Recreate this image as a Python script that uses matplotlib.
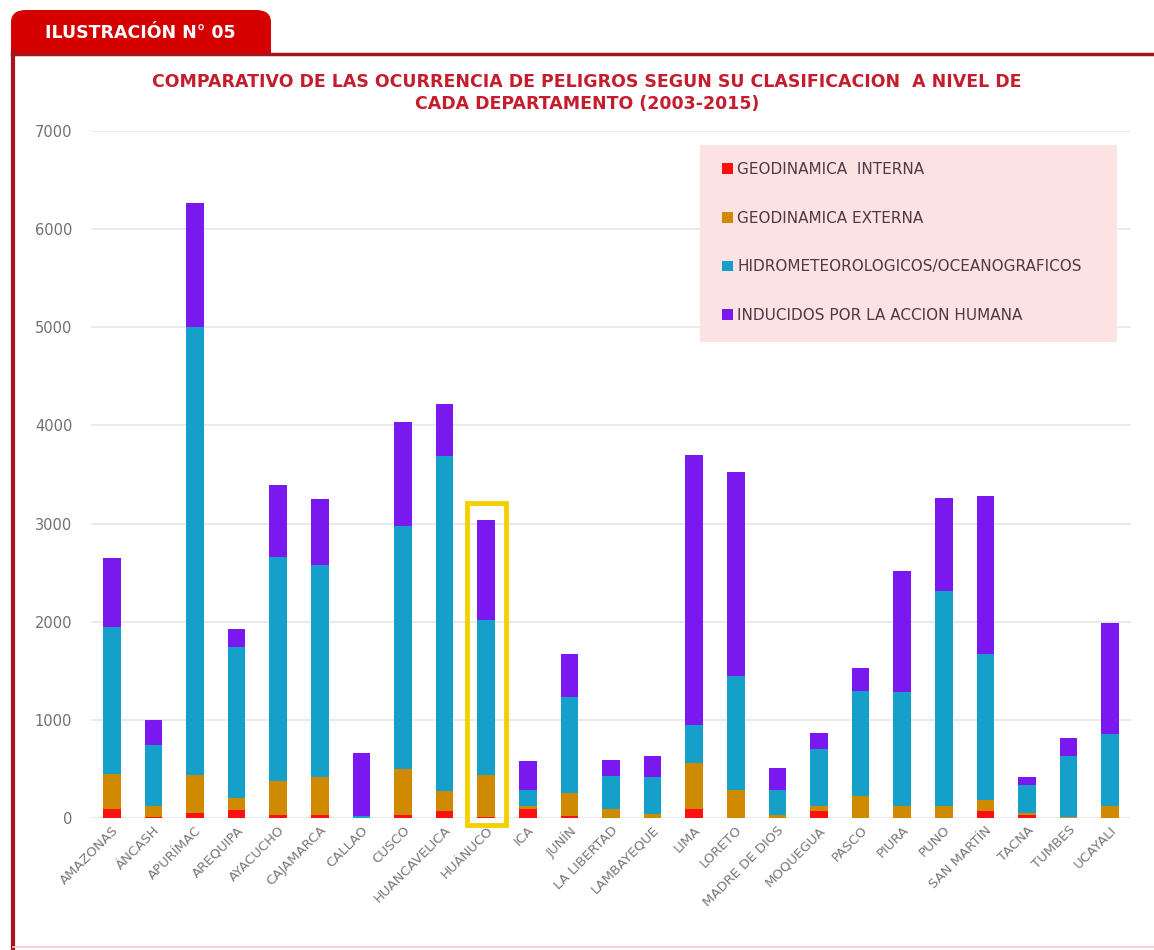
import matplotlib.pyplot as plt
from matplotlib.patches import Rectangle, FancyBboxPatch
import numpy as np

# departamentos
departamentos = ["AMAZONAS", "ÁNCASH", "APURÍMAC", "AREQUIPA", "AYACUCHO",
                 "CAJAMARCA", "CALLAO", "CUSCO", "HUANCAVELICA", "HUÁNUCO",
                 "ICA", "JUNÍN", "LA LIBERTAD", "LAMBAYEQUE", "LIMA", "LORETO",
                 "MADRE DE DIOS", "MOQUEGUA", "PASCO", "PIURA", "PUNO",
                 "SAN MARTÍN", "TACNA", "TUMBES", "UCAYALI"]

# ocurrencias por tipo de peligro (2003-2015)
geo_interna = [90, 10, 50, 85, 35, 30, 0, 30, 70, 10, 92, 17, 5, 5, 92, 5,
               0, 68, 5, 0, 0, 68, 30, 0, 0]
geo_externa = [355, 110, 387, 120, 340, 386, 5, 465, 203, 427, 28, 239, 87,
               40, 470, 278, 30, 52, 216, 120, 120, 119, 20, 15, 120]
hidrometeo = [1500, 620, 4563, 1535, 2280, 2157, 20, 2481, 3420, 1583, 163,
              973, 341, 371, 382, 1165, 253, 585, 1074, 1168, 2197, 1489, 290,
              615, 732]
accion_humana = [705, 255, 1266, 190, 741, 680, 634, 1059, 527, 1018, 297,
                 439, 163, 214, 2752, 2081, 228, 164, 238, 1224, 946, 1604,
                 76, 188, 1138]

series = [
    ("GEODINAMICA  INTERNA", geo_interna, "#FF1010"),
    ("GEODINAMICA EXTERNA", geo_externa, "#D08A00"),
    ("HIDROMETEOROLOGICOS/OCEANOGRAFICOS", hidrometeo, "#14A0C8"),
    ("INDUCIDOS POR LA ACCION HUMANA", accion_humana, "#7A18F0"),
]

W, H = 1154, 950
fig = plt.figure(figsize=(W / 100, H / 100), dpi=100)
fig.patch.set_facecolor("white")

# marco rojo y pestaña del encabezado
fig.patches.append(FancyBboxPatch((11 / W, 1 - 54 / H), 260 / W, 44 / H,
                                  boxstyle="round,pad=0,rounding_size=0.013",
                                  transform=fig.transFigure,
                                  facecolor="#D40000", edgecolor="none"))
fig.patches.append(Rectangle((11 / W, 1 - 54 / H), 260 / W, 20 / H,
                             transform=fig.transFigure,
                             facecolor="#D40000", edgecolor="none"))
fig.add_artist(plt.Line2D([12 / W, 1], [1 - 53.5 / H, 1 - 53.5 / H],
                          color="#A8141C", lw=2.5))
fig.add_artist(plt.Line2D([13 / W, 13 / W], [0, 1 - 53 / H],
                          color="#A8141C", lw=3))
fig.add_artist(plt.Line2D([13 / W, 1], [3 / H, 3 / H],
                          color="#F6C8D0", lw=1.2))
fig.text(45 / W, 1 - 33 / H, "ILUSTRACIÓN N° 05", color="white",
         fontsize=12.5, fontweight="bold", family="DejaVu Sans", va="center")

titulo = dict(color="#C41E2E", fontsize=12.5, fontweight="bold",
              family="DejaVu Sans", ha="center", va="center")
fig.text(587 / W, 1 - 82 / H,
         "COMPARATIVO DE LAS OCURRENCIA DE PELIGROS SEGUN SU CLASIFICACION  A NIVEL DE",
         **titulo)
fig.text(587 / W, 1 - 104 / H, "CADA DEPARTAMENTO (2003-2015)", **titulo)

ax = fig.add_axes([91 / W, (H - 818) / H, 1040 / W, (818 - 131) / H])
x = np.arange(len(departamentos))
bottom = np.zeros(len(departamentos))
handles = []
for nombre, valores, color in series:
    b = ax.bar(x, valores, width=0.42, bottom=bottom, color=color,
               label=nombre, zorder=3)
    handles.append(b)
    bottom += np.array(valores)

ax.set_xlim(-0.5, len(departamentos) - 0.5)
ax.set_ylim(0, 7000)
ax.set_yticks(range(0, 7001, 1000))
ax.yaxis.grid(True, color="#E6E6E6", lw=1.2, zorder=0)
for s in ax.spines.values():
    s.set_visible(False)
ax.tick_params(axis="y", length=0, pad=13.5, labelsize=10.5,
               labelcolor="#707070")
ax.tick_params(axis="x", length=0, pad=4)
ax.set_xticks(x)
ax.set_xticklabels(departamentos, rotation=45, ha="right",
                   rotation_mode="anchor", fontsize=9.5, color="#787878")

# recuadro de Huánuco
idx = departamentos.index("HUÁNUCO")
ax.add_patch(Rectangle((idx - 0.47, -70), 0.94, 3280, fill=False,
                       edgecolor="#F5D000", lw=3.5, clip_on=False, zorder=4))

# fondo rosado de la leyenda
fig.patches.append(Rectangle((700 / W, 1 - 342 / H), 417 / W, 197 / H,
                             transform=fig.transFigure,
                             facecolor="#FCE2E2", edgecolor="none", zorder=1))
leg = fig.legend(handles=handles, loc="upper left",
                 bbox_to_anchor=(722 / W, 1 - 162 / H),
                 frameon=False, fontsize=11,
                 handlelength=0.7, handleheight=0.7, handletextpad=0.3,
                 labelspacing=2.2, borderpad=0, borderaxespad=0)
for t in leg.get_texts():
    t.set_color("#503848")

fig.savefig("out.png", dpi=100)
